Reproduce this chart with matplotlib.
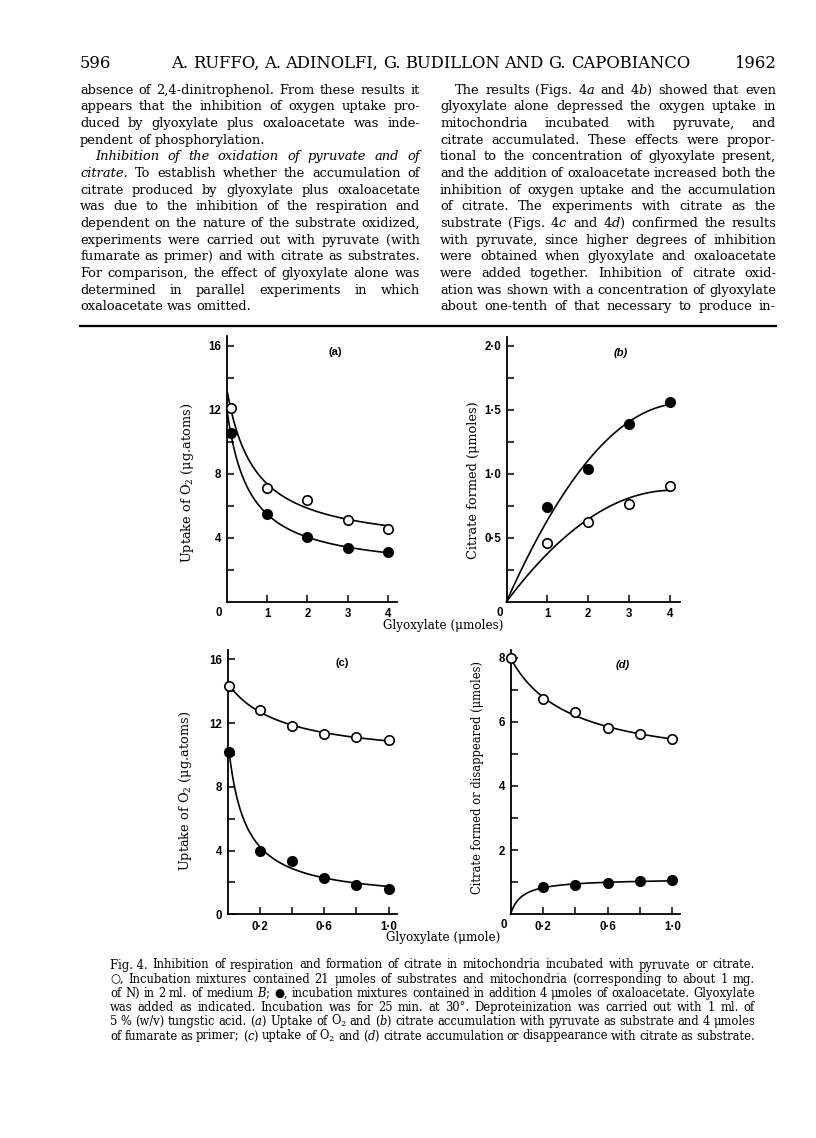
import numpy as np
import matplotlib
matplotlib.use("Agg")
import matplotlib.pyplot as plt
from matplotlib.lines import Line2D

plt.rcParams['font.family'] = ['DejaVu Serif', 'DejaVu Sans']
plt.rcParams['mathtext.fontset'] = 'dejavuserif'

# ---------------- data ----------------
a_x = [0.1, 1, 2, 3, 4]
a_open = [12.1, 7.1, 6.4, 5.1, 4.55]
a_filled = [10.55, 5.5, 4.05, 3.4, 3.1]

b_x = [1, 2, 3, 4]
b_open = [0.46, 0.62, 0.76, 0.90]
b_filled = [0.74, 1.04, 1.39, 1.56]

c_x = [0.01, 0.2, 0.4, 0.6, 0.8, 1.0]
c_open = [14.35, 12.8, 11.8, 11.3, 11.1, 10.95]
c_filled = [10.2, 4.0, 3.35, 2.3, 1.85, 1.6]

d_x_open = [0.0, 0.2, 0.4, 0.6, 0.8, 1.0]
d_open = [8.0, 6.7, 6.3, 5.82, 5.62, 5.45]
d_x_filled = [0.2, 0.4, 0.6, 0.8, 1.0]
d_filled = [0.85, 0.91, 0.97, 1.04, 1.07]

a_yticks = [4, 8, 12, 16]
a_ylabels = ['4', '8', '12', '16']
a_yminor = [2, 6, 10, 14]
a_xticks = [1, 2, 3, 4]
a_xlabels = ['1', '2', '3', '4']

b_yticks = [0.5, 1.0, 1.5, 2.0]
b_ylabels = ['0·5', '1·0', '1·5', '2·0']
b_yminor = [0.25, 0.75, 1.25, 1.75]
b_xticks = [1, 2, 3, 4]
b_xlabels = ['1', '2', '3', '4']

c_yticks = [0, 4, 8, 12, 16]
c_ylabels = ['0', '4', '8', '12', '16']
c_yminor = [2, 6, 10, 14]
cd_xticks = [0.2, 0.4, 0.6, 0.8, 1.0]
cd_xlabels = ['0·2', '', '0·6', '', '1·0']

d_yticks = [2, 4, 6, 8]
d_ylabels = ['2', '4', '6', '8']
d_yminor = [1, 3, 5, 7]

header_left = "596"
header_title = "A. RUFFO, A. ADINOLFI, G. BUDILLON AND G. CAPOBIANCO"
header_right = "1962"

body_left = [
    "absence of 2,4-dinitrophenol. From these results it",
    "appears that the inhibition of oxygen uptake pro-",
    "duced by glyoxylate plus oxaloacetate was inde-",
    "pendent of phosphorylation.",
    "_Inhibition_ _of_ _the_ _oxidation_ _of_ _pyruvate_ _and_ _of_",
    "_citrate._ To establish whether the accumulation of",
    "citrate produced by glyoxylate plus oxaloacetate",
    "was due to the inhibition of the respiration and",
    "dependent on the nature of the substrate oxidized,",
    "experiments were carried out with pyruvate (with",
    "fumarate as primer) and with citrate as substrates.",
    "For comparison, the effect of glyoxylate alone was",
    "determined in parallel experiments in which",
    "oxaloacetate was omitted.",
]
left_justify = [True, True, True, False, True, True, True, True, True, True,
                True, True, True, False]
left_indent = [0, 0, 0, 0, 15, 0, 0, 0, 0, 0, 0, 0, 0, 0]

body_right = [
    r"The results (Figs. 4$\mathit{a}$ and 4$\mathit{b}$) showed that even",
    "glyoxylate alone depressed the oxygen uptake in",
    "mitochondria incubated with pyruvate, and",
    "citrate accumulated. These effects were propor-",
    "tional to the concentration of glyoxylate present,",
    "and the addition of oxaloacetate increased both the",
    "inhibition of oxygen uptake and the accumulation",
    "of citrate. The experiments with citrate as the",
    r"substrate (Figs. 4$\mathit{c}$ and 4$\mathit{d}$) confirmed the results",
    "with pyruvate, since higher degrees of inhibition",
    "were obtained when glyoxylate and oxaloacetate",
    "were added together. Inhibition of citrate oxid-",
    "ation was shown with a concentration of glyoxylate",
    "about one-tenth of that necessary to produce in-",
]
right_indent = [15] + [0] * 13

caption = [
    "Fig.\u00a04.  Inhibition of respiration and formation of citrate in mitochondria incubated with pyruvate or citrate.",
    "\u25cb, Incubation mixtures contained 21 \u03bcmoles of substrates and mitochondria (corresponding to about 1 mg.",
    r"of N) in 2 ml. of medium $\mathit{B}$; " + "\u25cf, incubation mixtures contained in addition 4 \u03bcmoles of oxaloacetate. Glyoxylate",
    "was added as indicated. Incubation was for 25 min. at 30°. Deproteinization was carried out with 1 ml. of",
    "5\u00a0% (w/v) tungstic acid. " + r"($\mathit{a}$) Uptake of O$_2$ and ($\mathit{b}$) citrate accumulation with pyruvate as substrate and 4 " + "\u03bcmoles",
    r"of fumarate as primer; ($\mathit{c}$) uptake of O$_2$ and ($\mathit{d}$) citrate accumulation or disappearance with citrate as substrate.",
]

# ---------------- figure ----------------
W, H = 816, 1138
fig = plt.figure(figsize=(W / 100, H / 100), dpi=100)
fig.patch.set_facecolor('white')
renderer = fig.canvas.get_renderer()


def fxy(x, y):
    return x / W, 1 - y / H


def tokens(s):
    out = []
    for w in s.split(' '):
        if not w:
            continue
        if len(w) > 2 and w.startswith('_') and w.endswith('_'):
            out.append((w[1:-1], 'italic'))
        else:
            out.append((w, 'normal'))
    return out


def make_texts(toks, size, **kw):
    objs, widths = [], []
    for t, st in toks:
        o = fig.text(0, 0, t, fontsize=size, fontstyle=st, va='baseline',
                     ha='left', **kw)
        objs.append(o)
        widths.append(o.get_window_extent(renderer).width)
    return objs, widths


def fit_size(lines, avails, base, mingap=0.25, **kw):
    f = 1.0
    for s, av in zip(lines, avails):
        toks = tokens(s)
        objs, w = make_texts(toks, base, **kw)
        for o in objs:
            o.remove()
        need = sum(w) + (len(toks) - 1) * mingap * base * 100 / 72
        f = min(f, av / need)
    return base * f


def draw_line(s, x0, x1, y, size, justify=True, indent=0, **kw):
    toks = tokens(s)
    objs, w = make_texts(toks, size, **kw)
    avail = x1 - (x0 + indent)
    n = len(objs)
    if justify and n > 1:
        gap = (avail - sum(w)) / (n - 1)
    else:
        gap = 0.318 * size * 100 / 72
    x = x0 + indent
    for o, wi in zip(objs, w):
        o.set_position(fxy(x, y))
        x += wi + gap


# header
hs = fit_size([header_title], [690 - 171], 11.8, mingap=0.3)
fig.text(*fxy(80, 68), header_left, fontsize=hs, ha='left', va='baseline')
fig.text(*fxy(776, 68), header_right, fontsize=hs, ha='right', va='baseline')
draw_line(header_title, 171, 690, 68, hs)

# body columns
LX0, LX1, RX0, RX1 = 80, 420, 440, 776
bs = fit_size(body_left + body_right,
              [LX1 - LX0 - i for i in left_indent] + [RX1 - RX0 - i for i in right_indent],
              9.6)
for i, s in enumerate(body_left):
    y = 93.7 + 16.67 * i
    draw_line(s, LX0, LX1, y, bs, justify=left_justify[i], indent=left_indent[i])
for i, s in enumerate(body_right):
    y = 93.7 + 16.67 * i
    draw_line(s, RX0, RX1, y, bs, justify=True, indent=right_indent[i])

# rule
fig.add_artist(Line2D([80 / W, 776 / W], [1 - 325.7 / H] * 2, lw=1.6, color='black'))

# caption
CX0, CX1 = 110, 755
cs = fit_size(caption, [CX1 - CX0] * len(caption), 8.6)
for i, s in enumerate(caption):
    draw_line(s, CX0, CX1, 968.5 + 14.2 * i, cs, justify=True)


# ---------------- fits for the curves ----------------
def fit_hyper(x, y):
    x = np.asarray(x, float)
    y = np.asarray(y, float)
    best = None
    for c in np.linspace(0.005, 3, 600):
        A = np.column_stack([np.ones_like(x), 1 / (x + c)])
        coef = np.linalg.lstsq(A, y, rcond=None)[0]
        r = np.sum((A @ coef - y) ** 2)
        if best is None or r < best[0]:
            best = (r, c, coef)
    _, c, coef = best
    return lambda t: coef[0] + coef[1] / (t + c)


def fit_quad0(x, y):
    x = np.asarray(x, float)
    y = np.asarray(y, float)
    A = np.column_stack([x, x ** 2])
    coef = np.linalg.lstsq(A, y, rcond=None)[0]
    return lambda t: coef[0] * t + coef[1] * t ** 2


def fit_sat0(x, y):
    x = np.asarray(x, float)
    y = np.asarray(y, float)
    best = None
    for b in np.linspace(0.005, 2, 400):
        A = (x / (b + x))[:, None]
        coef = np.linalg.lstsq(A, y, rcond=None)[0]
        r = np.sum((A @ coef - y) ** 2)
        if best is None or r < best[0]:
            best = (r, b, coef[0])
    _, b, a = best
    return lambda t: a * t / (b + t)


def add_axes_px(left, top, right, bottom):
    return fig.add_axes([left / W, 1 - bottom / H, (right - left) / W, (bottom - top) / H])


tick_font = dict(fontfamily='Liberation Sans', fontweight='bold', fontsize=8.3)


def style_axes(ax, xlim, ylim, xt, xl, yt, yl, ymin):
    ax.set_xlim(*xlim)
    ax.set_ylim(*ylim)
    ax.patch.set_alpha(0)
    for sp in ['top', 'right']:
        ax.spines[sp].set_visible(False)
    for sp in ['left', 'bottom']:
        ax.spines[sp].set_linewidth(1.3)
    ax.set_xticks(xt, xl, **tick_font)
    ax.set_yticks(yt, yl, **tick_font)
    ax.set_yticks(ymin, minor=True)
    ax.tick_params(which='both', direction='in', length=5, width=1.1)
    ax.tick_params(axis='x', pad=4.5)
    ax.tick_params(axis='y', pad=4)


def plot_series(ax, x, y, filled, curve_x, f):
    ax.plot(curve_x, f(curve_x), color='black', lw=1.2, zorder=2, clip_on=False)
    ax.plot(x, y, ls='none', marker='o', ms=6.8, mew=1.2, mec='black',
            mfc='black' if filled else 'white', zorder=3, clip_on=False)


def origin_zero(ax, dx, dy):
    ax.annotate('0', xy=(0, 0), xycoords='data', xytext=(dx, dy),
                textcoords='offset pixels', ha='center', va='center', **tick_font)


# panel (a)
ax_a = add_axes_px(226.7, 336.4, 397.0, 602.0)
style_axes(ax_a, (0, 4.22), (0, 16.6), a_xticks, a_xlabels, a_yticks, a_ylabels, a_yminor)
t = np.linspace(0.02, 4, 300)
plot_series(ax_a, a_x, a_open, False, t, fit_hyper(a_x, a_open))
plot_series(ax_a, a_x, a_filled, True, t, fit_hyper(a_x, a_filled))
origin_zero(ax_a, -8, -11)

# panel (b)
ax_b = add_axes_px(506.5, 336.7, 680.3, 601.7)
style_axes(ax_b, (0, 4.25), (0, 2.07), b_xticks, b_xlabels, b_yticks, b_ylabels, b_yminor)
t = np.linspace(0, 4, 300)
plot_series(ax_b, b_x, b_open, False, t, fit_quad0(b_x, b_open))
plot_series(ax_b, b_x, b_filled, True, t, fit_quad0(b_x, b_filled))
origin_zero(ax_b, -7, -11)

# panel (c)
ax_c = add_axes_px(227.5, 649.7, 396.6, 914.3)
style_axes(ax_c, (0, 1.05), (0, 16.6), cd_xticks, cd_xlabels, c_yticks, c_ylabels, c_yminor)
t = np.linspace(0.01, 1.0, 300)
plot_series(ax_c, c_x, c_open, False, t, fit_hyper(c_x, c_open))
plot_series(ax_c, c_x, c_filled, True, t, fit_hyper(c_x, c_filled))

# panel (d)
ax_d = add_axes_px(510.5, 649.6, 680.3, 914.3)
style_axes(ax_d, (0, 1.05), (0, 8.25), cd_xticks, cd_xlabels, d_yticks, d_ylabels, d_yminor)
t = np.linspace(0, 1.0, 300)
plot_series(ax_d, d_x_open, d_open, False, t, fit_hyper(d_x_open, d_open))
plot_series(ax_d, d_x_filled, d_filled, True, t, fit_sat0(d_x_filled, d_filled))
origin_zero(ax_d, -7, -11)

# panel letters
pl = dict(fontfamily='Liberation Sans', fontweight='bold', fontsize=8, ha='center', va='center')
fig.text(*fxy(335, 352), '(a)', **pl)
fig.text(*fxy(621, 353), '(b)', fontstyle='italic', **pl)
fig.text(*fxy(342, 663), '(c)', **pl)
fig.text(*fxy(623, 665), '(d)', fontstyle='italic', **pl)

# axis labels
fig.text(*fxy(187, 483), r'Uptake of O$_2$ (μg.atoms)', rotation=90, fontsize=9.3, ha='center', va='center')
fig.text(*fxy(185, 791), r'Uptake of O$_2$ (μg.atoms)', rotation=90, fontsize=9.3, ha='center', va='center')
fig.text(*fxy(473, 480), 'Citrate formed (μmoles)', rotation=90, fontsize=9.3, ha='center', va='center')
fig.text(*fxy(478, 777), 'Citrate formed or disappeared (μmoles)', rotation=90, fontsize=8.3, ha='center', va='center')
fig.text(*fxy(443, 625), 'Glyoxylate (μmoles)', fontsize=8.6, ha='center', va='center')
fig.text(*fxy(443, 937), 'Glyoxylate (μmole)', fontsize=8.6, ha='center', va='center')

fig.savefig('out.png', dpi=100, facecolor='white')
